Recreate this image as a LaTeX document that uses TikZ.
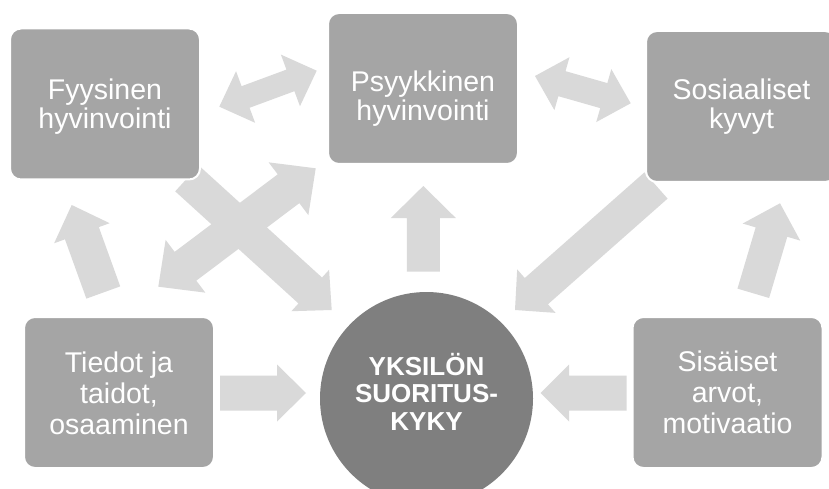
\documentclass[tikz,border=0pt]{standalone}
\usepackage{fontspec}
\setmainfont{Liberation Sans}
\usetikzlibrary{calc}
\definecolor{boxgray}{HTML}{A5A5A5}
\definecolor{arrgray}{HTML}{D9D9D9}
\definecolor{circgray}{HTML}{7F7F7F}
\tikzset{
  box/.style={draw=white, line width=2pt, fill=boxgray, rounded corners=11pt,
    minimum width=190pt, minimum height=151pt, inner sep=0pt},
  hub/.style={circle, fill=circgray, minimum size=213pt, inner sep=0pt},
  boxtext/.style={text=white, align=center, anchor=base, inner sep=0pt,
    font=\fontsize{28.5}{29}\selectfont},
  boxtextb/.style={boxtext, font=\fontsize{28.5}{31}\selectfont},
  hubtext/.style={boxtext, font=\fontsize{26}{27.5}\selectfont\bfseries},
  arrowfill/.style={fill=arrgray},
}
% single block arrow: tail, tip, half shaft, half head, head length
\newcommand{\blkarrow}[5]{%
  \coordinate (tmpH) at ($(#2)!#5!(#1)$);
  \fill[arrowfill] ($(#1)!#3!90:(#2)$) -- ($(tmpH)!#3!90:(#2)$) -- ($(tmpH)!#4!90:(#2)$)
    -- (#2) -- ($(tmpH)!#4!-90:(#2)$) -- ($(tmpH)!#3!-90:(#2)$) -- ($(#1)!#3!-90:(#2)$) -- cycle;}
% double block arrow: tip1, tip2, half shaft, half head, head length
\newcommand{\dblkarrow}[5]{%
  \coordinate (tmpH) at ($(#2)!#5!(#1)$);
  \coordinate (tmpG) at ($(#1)!#5!(#2)$);
  \fill[arrowfill] (#1) -- ($(tmpG)!#4!90:(#2)$) -- ($(tmpG)!#3!90:(#2)$) -- ($(tmpH)!#3!90:(#2)$)
    -- ($(tmpH)!#4!90:(#2)$) -- (#2) -- ($(tmpH)!#4!-90:(#2)$) -- ($(tmpH)!#3!-90:(#2)$)
    -- ($(tmpG)!#3!-90:(#2)$) -- ($(tmpG)!#4!-90:(#2)$) -- cycle;}
\begin{document}
\begin{tikzpicture}[x=1pt, y=-1pt]
\useasboundingbox (0,0) rectangle (829,489);
\begin{scope}
\clip (0,0) rectangle (829,489);
\fill[white] (0,0) rectangle (829,489);
% arrow end points
\coordinate (a1p) at (219.3,106.7);  \coordinate (a1q) at (316.7,70.7);
\coordinate (a2p) at (535,76);       \coordinate (a2q) at (630.7,103.3);
\coordinate (a3p) at (158.3,286.7);  \coordinate (a3q) at (315.7,168.3);
\coordinate (a4s) at (187,178.4);    \coordinate (a4t) at (331.7,310);
\coordinate (a5s) at (103.3,292.5);  \coordinate (a5t) at (71.7,205);
\coordinate (a6s) at (423.3,271.7);  \coordinate (a6t) at (423.3,186);
\coordinate (a7s) at (656,185.5);    \coordinate (a7t) at (515,310);
\coordinate (a8s) at (753.3,293.3);  \coordinate (a8t) at (780,203.3);
\coordinate (a9s) at (220,393);      \coordinate (a9t) at (306,393);
\coordinate (a10s) at (626.7,393);   \coordinate (a10t) at (540.7,393);
% arrows
\dblkarrow{a1p}{a1q}{11.5pt}{27.5pt}{28pt}
\dblkarrow{a2p}{a2q}{13pt}{27.5pt}{28pt}
\blkarrow{a4s}{a4t}{17.5pt}{28pt}{29pt}
\dblkarrow{a3p}{a3q}{18pt}{33pt}{34pt}
\blkarrow{a5s}{a5t}{18pt}{29.5pt}{30pt}
\blkarrow{a6s}{a6t}{16.5pt}{32.5pt}{32pt}
\blkarrow{a7s}{a7t}{17.5pt}{29pt}{28.5pt}
\blkarrow{a8s}{a8t}{16.5pt}{30pt}{30pt}
\blkarrow{a9s}{a9t}{17.5pt}{28.5pt}{29pt}
\blkarrow{a10s}{a10t}{17.5pt}{28.5pt}{28.5pt}
% boxes
\node[box] (fyy) at (105,104) {};
\node[box] (psy) at (423,88.5) {};
\node[box] (sos) at (741,106.5) {};
\node[box] (tie) at (119,392.5) {};
\node[box] (sis) at (727.5,392.5) {};
\node[hub] (hub) at (426.5,398.5) {};
% texts (anchor = baseline of last line)
\node[boxtext] (fyyt) at (105,128.3) {Fyysinen\\hyvinvointi};
\node[boxtext] (psyt) at (423,121) {Psyykkinen\\hyvinvointi};
\node[boxtext] (sost) at (741.5,128.3) {Sosiaaliset\\kyvyt};
\node[boxtextb] (tiet) at (119,434) {Tiedot ja\\taidot,\\osaaminen};
\node[boxtextb] (sist) at (727.5,433) {Sisäiset\\arvot,\\motivaatio};
\node[hubtext] (hubt) at (426.5,430) {YKSILÖN\\SUORITUS-\\KYKY};
\end{scope}
\end{tikzpicture}
\end{document}
